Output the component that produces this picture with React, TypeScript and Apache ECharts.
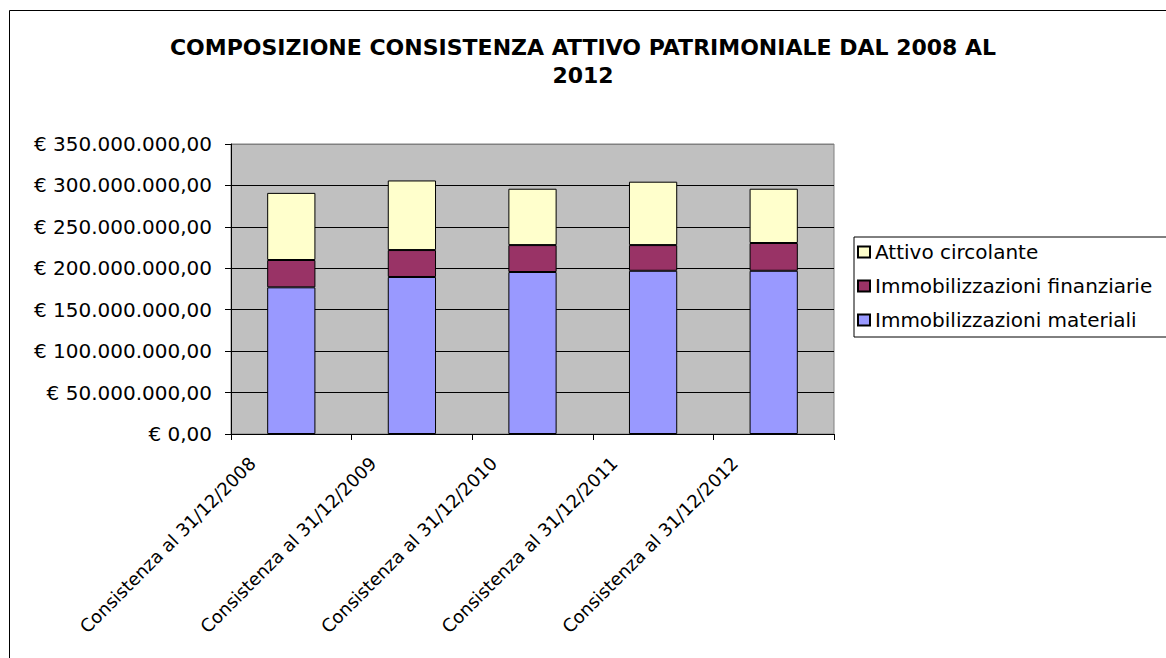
import React, { useEffect, useRef } from "react";
import * as echarts from "echarts";

const categories = [
  "Consistenza al 31/12/2008",
  "Consistenza al 31/12/2009",
  "Consistenza al 31/12/2010",
  "Consistenza al 31/12/2011",
  "Consistenza al 31/12/2012",
];
const materiali = [177000000, 189500000, 195500000, 197000000, 197000000];
const finanziarie = [33000000, 32500000, 32500000, 31000000, 33500000];
const circolante = [81000000, 84000000, 68000000, 76500000, 65500000];
const yTicks = { min: 0, max: 350000000, interval: 50000000 };
const seriesNames = ["Immobilizzazioni materiali", "Immobilizzazioni finanziarie", "Attivo circolante"];

const FONT = "DejaVu Sans";

function fmtEuro(v: number): string {
  const s = Math.round(v).toString().replace(/\B(?=(\d{3})+(?!\d))/g, ".");
  return "€ " + s + ",00";
}

export default function App() {
  const ref = useRef<HTMLDivElement>(null);
  useEffect(() => {
    if (!ref.current) return;
    const chart = echarts.init(ref.current, undefined, { renderer: "svg" });
    const barStyle = (color: string) => ({ color, borderColor: "#000", borderWidth: 1 });
    chart.setOption({
      animation: false,
      backgroundColor: "#fff",
      textStyle: { fontFamily: FONT },
      title: {
        text: "COMPOSIZIONE CONSISTENZA ATTIVO PATRIMONIALE DAL 2008 AL\n2012",
        left: "center",
        top: 28,
        textStyle: { fontFamily: FONT, fontSize: 22, fontWeight: "bold", color: "#000", lineHeight: 28 },
      },
      graphic: [
        {
          type: "rect",
          shape: { x: 9.5, y: 10.5, width: 1300, height: 800 },
          style: { fill: "none", stroke: "#000", lineWidth: 1 },
          silent: true,
          z: -1,
        },
      ],
      legend: {
        orient: "vertical",
        left: 854,
        top: 237,
        data: [seriesNames[2], seriesNames[1], seriesNames[0]],
        icon: "rect",
        itemWidth: 12,
        itemHeight: 11,
        itemGap: 12,
        itemTextGap: 3,
        padding: [4, 60, 6, 3],
        backgroundColor: "#fff",
        borderColor: "#000",
        borderWidth: 1,
        borderRadius: 0,
        textStyle: { fontFamily: FONT, fontSize: 20, color: "#000", lineHeight: 22 },
      },
      grid: {
        left: 231,
        top: 144,
        right: 332,
        bottom: 224,
        show: true,
        backgroundColor: "#C0C0C0",
        borderColor: "#808080",
        borderWidth: 1,
      },
      xAxis: {
        type: "category",
        data: categories,
        axisLine: { show: true, lineStyle: { color: "#000", width: 1 } },
        axisTick: { show: true, length: 6, alignWithLabel: false, lineStyle: { color: "#000" } },
        axisLabel: {
          rotate: 45,
          interval: 0,
          margin: 0,
          verticalAlign: "bottom",
          padding: [0, 46, 0, 0],
          fontFamily: FONT,
          fontSize: 18,
          color: "#000",
        },
        splitLine: { show: false },
      },
      yAxis: {
        type: "value",
        min: yTicks.min,
        max: yTicks.max,
        interval: yTicks.interval,
        axisLine: { show: true, lineStyle: { color: "#000", width: 1 } },
        axisTick: { show: true, length: 6, lineStyle: { color: "#000" } },
        axisLabel: {
          margin: 19,
          fontFamily: FONT,
          fontSize: 20,
          color: "#000",
          formatter: (v: number) => fmtEuro(v),
        },
        splitLine: {
          show: true,
          lineStyle: {
            color: ["#000", "#000", "#000", "#000", "#000", "#000", "#000", "#808080"],
            width: 1,
          },
        },
      },
      series: [
        { name: seriesNames[0], type: "bar", stack: "tot", data: materiali, barWidth: "40%", itemStyle: barStyle("#9999FF") },
        { name: seriesNames[1], type: "bar", stack: "tot", data: finanziarie, barWidth: "40%", itemStyle: barStyle("#993366") },
        { name: seriesNames[2], type: "bar", stack: "tot", data: circolante, barWidth: "40%", itemStyle: barStyle("#FFFFCC") },
      ],
    });
    return () => chart.dispose();
  }, []);
  return (
    <div
      ref={ref}
      style={{ position: "absolute", left: 0, top: 0, width: 1166, height: 658 }}
    />
  );
}
